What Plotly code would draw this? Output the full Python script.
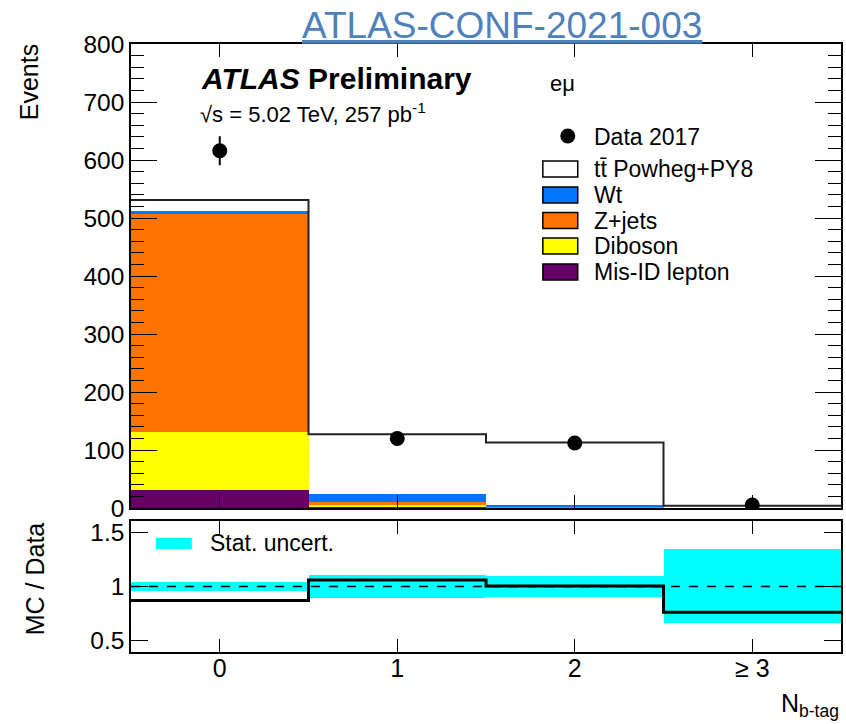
import plotly.graph_objects as go

# ---------------- data ----------------
bins = [0, 1, 2, 3]
bin_edges = [-0.5, 0.5, 1.5, 2.5, 3.5]
tick_labels = ["0", "1", "2", "≥ 3"]

misid = [31, 2, 1, 0.2]
diboson = [100, 3, 0.5, 0.1]
zjets = [376, 6, 0.5, 0.1]
wt = [5, 13, 3, 0.5]
ttbar = [19, 103, 108, 3.0]

data = [616, 120, 112, 5]
data_err = [25, 11, 11, 2.2]

ratio = [0.87, 1.06, 1.005, 0.76]
band_lo = [0.96, 0.895, 0.905, 0.66]
band_hi = [1.04, 1.105, 1.10, 1.35]

# ---------------- styles ----------------
FONT = "Liberation Sans, Arial, Helvetica, sans-serif"
C_TT = "white"
C_WT = "#0075ff"
C_Z = "#ff7400"
C_DB = "#ffff00"
C_MIS = "#660066"
C_BAND = "#00ffff"

W, H = 846, 724
L, R, T, B = 131, 3, 44, 72
PW, PH = W - L - R, H - T - B


def px(x):
    return (x - L) / PW


def py(y):
    return (H - B - y) / PH


fig = go.Figure()

for name, vals, col in [("Mis-ID lepton", misid, C_MIS), ("Diboson", diboson, C_DB),
                        ("Z+jets", zjets, C_Z), ("Wt", wt, C_WT), ("ttbar", ttbar, C_TT)]:
    fig.add_trace(go.Bar(x=bins, y=vals, width=1, marker=dict(color=col, line=dict(width=0)),
                         name=name, xaxis="x", yaxis="y", showlegend=False, hoverinfo="skip"))

totals = [a + b + c + d + e for a, b, c, d, e in zip(misid, diboson, zjets, wt, ttbar)]
fig.add_trace(go.Scatter(x=bin_edges, y=totals + [totals[-1]], mode="lines",
                         line=dict(color="#222222", width=2, shape="hv"),
                         xaxis="x", yaxis="y", showlegend=False, hoverinfo="skip"))

fig.add_trace(go.Scatter(x=bins, y=data, mode="markers",
                         marker=dict(color="black", size=15),
                         error_y=dict(type="data", array=data_err, color="black", thickness=2, width=0),
                         xaxis="x", yaxis="y", showlegend=False))

# ratio panel
fig.add_trace(go.Bar(x=bins, y=[h - l for h, l in zip(band_hi, band_lo)], base=band_lo, width=1,
                     marker=dict(color=C_BAND, line=dict(width=0)),
                     xaxis="x2", yaxis="y2", showlegend=False, hoverinfo="skip"))
fig.add_trace(go.Scatter(x=[bin_edges[0], bin_edges[-1]], y=[1, 1], mode="lines",
                         line=dict(color="black", width=1.5, dash="dash"),
                         xaxis="x2", yaxis="y2", showlegend=False, hoverinfo="skip"))
fig.add_trace(go.Scatter(x=bin_edges, y=ratio + [ratio[-1]], mode="lines",
                         line=dict(color="black", width=3, shape="hv"),
                         xaxis="x2", yaxis="y2", showlegend=False, hoverinfo="skip"))

axis_common = dict(showline=True, linecolor="black", linewidth=1.5, mirror="ticks",
                   ticks="inside", tickcolor="black", showgrid=False, zeroline=False,
                   tickfont=dict(family=FONT, size=25, color="black"))

main_dom = [py(508), 1]
ratio_dom = [0, py(521)]

fig.update_layout(
    width=W, height=H, margin=dict(l=L, r=R, t=T, b=B),
    paper_bgcolor="white", plot_bgcolor="white", barmode="stack", bargap=0,
    xaxis=dict(axis_common, range=[-0.5, 3.5], domain=[0, 1], anchor="y",
               tickvals=bins, showticklabels=False, ticklen=13),
    yaxis=dict(axis_common, range=[0, 800], domain=main_dom, anchor="x",
               tickvals=[0, 100, 200, 300, 400, 500, 600, 700, 800], ticklen=26,
               tickfont=dict(family=FONT, size=24.5, color="black"),
               minor=dict(ticks="inside", dtick=20, ticklen=13, tickcolor="black", showgrid=False)),
    xaxis2=dict(axis_common, range=[-0.5, 3.5], domain=[0, 1], anchor="y2", matches="x",
                tickvals=bins, ticktext=tick_labels, ticklen=13, ticklabelstandoff=-7),
    yaxis2=dict(axis_common, range=[0.39, 1.61], domain=ratio_dom, anchor="x2",
                tickvals=[0.5, 1, 1.5], ticktext=["0.5", "1", "1.5"], ticklen=17,
                tickfont=dict(family=FONT, size=24.5, color="black")),
)

ann = []


def text(x, y, s, size, xanchor="left", yanchor="middle", color="black", angle=0):
    ann.append(dict(x=px(x), y=py(y), xref="paper", yref="paper", text=s, showarrow=False,
                    xanchor=xanchor, yanchor=yanchor, textangle=angle,
                    font=dict(family=FONT, size=size, color=color)))


text(503, 25, "<u>ATLAS-CONF-2021-003</u>", 37, xanchor="center", color="#4f81bd")
text(199, 79, "<b><i>ATLAS</i> Preliminary</b>", 30)
text(549, 83, "eμ", 22)
text(198, 113, "√s = 5.02 TeV, 257 pb<sup>-1</sup>", 22)
text(29, 82, "Events", 25, xanchor="center", angle=-90)
text(35, 579, "MC / Data", 25, xanchor="center", angle=-90)
text(843, 723, "N<sub>b-tag</sub>", 25, xanchor="right", yanchor="bottom")

# legend
shapes = []
text(593, 137, "Data 2017", 23)
shapes.append(dict(type="circle", xref="paper", yref="paper", x0=px(561.5), x1=px(576.5),
                   y0=py(143.5), y1=py(128.5), fillcolor="black", line=dict(width=0)))
leg = [("tt\u0304 Powheg+PY8", C_TT, 169), ("Wt", C_WT, 195), ("Z+jets", C_Z, 220.5),
       ("Diboson", C_DB, 246), ("Mis-ID lepton", C_MIS, 272)]
for lab, col, yc in leg:
    shapes.append(dict(type="rect", xref="paper", yref="paper", x0=px(544), x1=px(579),
                       y0=py(yc + 8), y1=py(yc - 8), fillcolor=col, line=dict(color="black", width=1.5)))
    text(593, yc, lab, 23)

shapes.append(dict(type="rect", xref="paper", yref="paper", x0=px(156), x1=px(192),
                   y0=py(549), y1=py(538), fillcolor=C_BAND, line=dict(width=0)))
text(208, 543, "Stat. uncert.", 23)

fig.update_layout(annotations=ann, shapes=shapes)
fig.write_html("out.html")
